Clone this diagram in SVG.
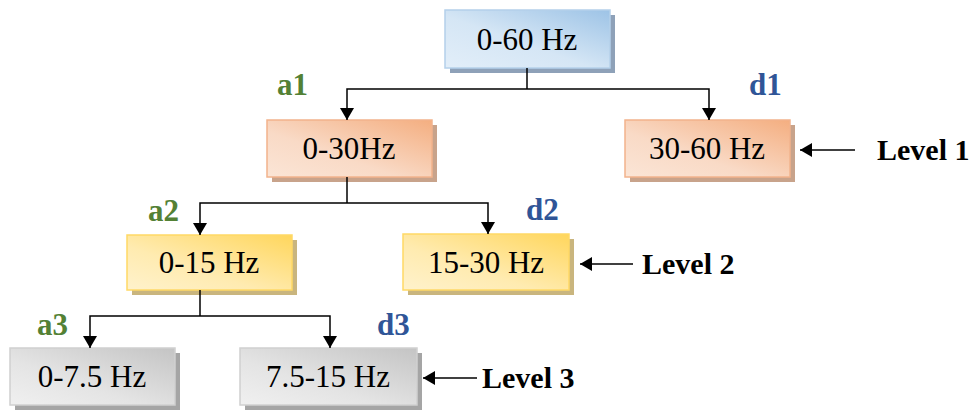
<svg xmlns="http://www.w3.org/2000/svg" width="978" height="414" viewBox="0 0 978 414">
  <defs>
    <linearGradient id="gBlue" x1="1" y1="0" x2="0" y2="1">
      <stop offset="0" stop-color="#9DC3E6"/>
      <stop offset="0.55" stop-color="#D5E6F5"/>
      <stop offset="1" stop-color="#E2EEF9"/>
    </linearGradient>
    <linearGradient id="gOrange" x1="1" y1="0" x2="0" y2="1">
      <stop offset="0" stop-color="#F4AE80"/>
      <stop offset="0.6" stop-color="#F9DAC6"/>
      <stop offset="1" stop-color="#FBE5D6"/>
    </linearGradient>
    <linearGradient id="gYellow" x1="1" y1="0" x2="0" y2="1">
      <stop offset="0" stop-color="#FFD65C"/>
      <stop offset="0.6" stop-color="#FFEBB0"/>
      <stop offset="1" stop-color="#FFF2CC"/>
    </linearGradient>
    <linearGradient id="gGray" x1="1" y1="0" x2="0" y2="1">
      <stop offset="0" stop-color="#C4C4C4"/>
      <stop offset="0.6" stop-color="#E4E4E4"/>
      <stop offset="1" stop-color="#F0F0F0"/>
    </linearGradient>
    <marker id="arrow" viewBox="0 0 12 14" refX="12" refY="7" markerWidth="12" markerHeight="14" markerUnits="userSpaceOnUse" orient="auto">
      <path d="M0,0 L12,7 L0,14 Z" fill="#000"/>
    </marker>
  </defs>
  <style>
    .box text { font-family: "Liberation Serif", "Times New Roman", serif; font-size: 31px; fill: #000; text-anchor: middle; }
    .blue .face { fill: url(#gBlue); stroke: #B4D0EA; stroke-width: 1.5; }
    .blue .shadow { fill: #8EA1B8; }
    .orange .face { fill: url(#gOrange); stroke: #F2B38C; stroke-width: 1.5; }
    .orange .shadow { fill: #C8A38B; }
    .yellow .face { fill: url(#gYellow); stroke: #FFD966; stroke-width: 1.5; }
    .yellow .shadow { fill: #C9B57E; }
    .gray .face { fill: url(#gGray); stroke: #D0D0D0; stroke-width: 1.5; }
    .gray .shadow { fill: #A5A5A5; }
    .conn { fill: none; stroke: #000; stroke-width: 1.5; }
    .tag { font-family: "Liberation Serif", "Times New Roman", serif; font-size: 31px; font-weight: bold; }
    .a { fill: #538135; }
    .d { fill: #2F5597; }
    .level { font-family: "Liberation Serif", "Times New Roman", serif; font-size: 30px; font-weight: bold; fill: #000; }
  </style>

  <!-- tree nodes -->
  <g id="n-0-60" class="box blue">
    <rect class="shadow" x="450" y="15" width="165" height="58"/>
    <rect class="face" x="445" y="10" width="165" height="58"/>
    <text x="527" y="50">0-60 Hz</text>
  </g>
  <g id="n-0-30" class="box orange">
    <rect class="shadow" x="272" y="125" width="165" height="57"/>
    <rect class="face" x="267" y="120" width="165" height="57"/>
    <text x="349" y="159">0-30Hz</text>
  </g>
  <g id="n-30-60" class="box orange">
    <rect class="shadow" x="630" y="125" width="165" height="57"/>
    <rect class="face" x="625" y="120" width="165" height="57"/>
    <text x="707" y="159">30-60 Hz</text>
  </g>
  <g id="n-0-15" class="box yellow">
    <rect class="shadow" x="132" y="240" width="165" height="55"/>
    <rect class="face" x="127" y="235" width="165" height="55"/>
    <text x="209" y="273">0-15 Hz</text>
  </g>
  <g id="n-15-30" class="box yellow">
    <rect class="shadow" x="408" y="239" width="166" height="56"/>
    <rect class="face" x="403" y="234" width="166" height="56"/>
    <text x="486" y="273">15-30 Hz</text>
  </g>
  <g id="n-0-7_5" class="box gray">
    <rect class="shadow" x="15" y="353" width="165" height="57"/>
    <rect class="face" x="10" y="348" width="165" height="57"/>
    <text x="92" y="387">0-7.5 Hz</text>
  </g>
  <g id="n-7_5-15" class="box gray">
    <rect class="shadow" x="245" y="353" width="177" height="57"/>
    <rect class="face" x="240" y="348" width="177" height="57"/>
    <text x="328" y="387">7.5-15 Hz</text>
  </g>

  <!-- branch connectors and level pointers -->
  <g id="connectors">
    <path class="conn" d="M527,68 V89"/>
    <path class="conn" d="M527,89 H347 V120" marker-end="url(#arrow)"/>
    <path class="conn" d="M527,89 H709 V120" marker-end="url(#arrow)"/>
    <path class="conn" d="M347,177 V203"/>
    <path class="conn" d="M347,203 H200 V235" marker-end="url(#arrow)"/>
    <path class="conn" d="M347,203 H488 V234" marker-end="url(#arrow)"/>
    <path class="conn" d="M200,290 V316"/>
    <path class="conn" d="M200,316 H90 V348" marker-end="url(#arrow)"/>
    <path class="conn" d="M200,316 H330 V348" marker-end="url(#arrow)"/>
    <path class="conn" d="M855,150 H800" marker-end="url(#arrow)"/>
    <path class="conn" d="M633,264 H580" marker-end="url(#arrow)"/>
    <path class="conn" d="M477,378 H423" marker-end="url(#arrow)"/>
  </g>

  <!-- approximation / detail tags -->
  <g id="tags">
    <text class="tag a" x="277" y="95">a1</text>
    <text class="tag d" x="749" y="95">d1</text>
    <text class="tag a" x="148" y="221">a2</text>
    <text class="tag d" x="526" y="220">d2</text>
    <text class="tag a" x="37" y="335">a3</text>
    <text class="tag d" x="377" y="335">d3</text>
  </g>

  <!-- level labels -->
  <g id="levels">
    <text class="level" x="877" y="160">Level 1</text>
    <text class="level" x="642" y="274">Level 2</text>
    <text class="level" x="482" y="388">Level 3</text>
  </g>
</svg>
